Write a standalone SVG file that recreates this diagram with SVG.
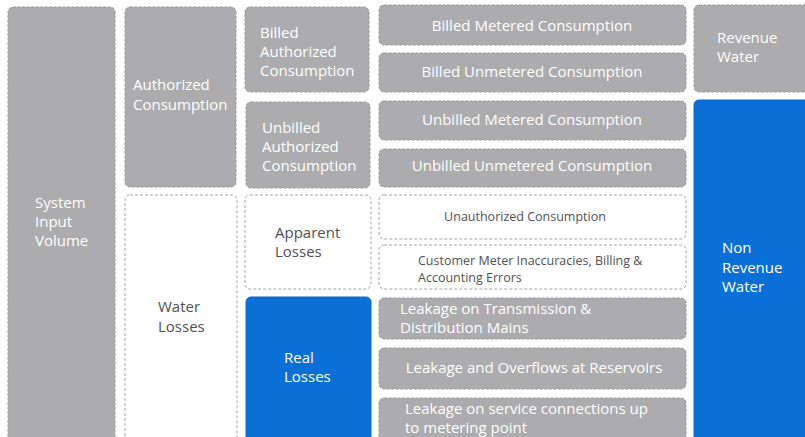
<svg xmlns="http://www.w3.org/2000/svg" width="805" height="437" viewBox="0 0 805 437">
<style>
.g{fill:#acacae;stroke:#9a9a9c;stroke-width:1;stroke-dasharray:3 1.5}
.w{fill:#ffffff;stroke:#a0a4b0;stroke-width:1;stroke-dasharray:3 2}
.b{fill:#0b6fd8;stroke:#0b66cc;stroke-width:1}
text{font-family:"Open Sans","Noto Sans",sans-serif;font-size:15px}
.lt{fill:#ffffff}
.dk{fill:#505054}
.sm{font-size:12.5px}
</style>
<rect width="805" height="437" fill="#ffffff"/>
<g id="system-input-volume">
<rect class="g" x="8" y="7" width="107" height="440" rx="5"/>
<text class="lt" x="35" y="208">System</text>
<text class="lt" x="35" y="227">Input</text>
<text class="lt" x="35" y="246">Volume</text>
</g>
<g id="authorized-consumption">
<rect class="g" x="125" y="7" width="111" height="180" rx="5"/>
<text class="lt" x="133" y="90">Authorized</text>
<text class="lt" x="133" y="110">Consumption</text>
</g>
<g id="water-losses">
<rect class="w" x="125" y="195" width="112" height="252" rx="5"/>
<text class="dk" x="158" y="312">Water</text>
<text class="dk" x="158" y="332">Losses</text>
</g>
<g id="billed-authorized">
<rect class="g" x="245" y="7" width="124" height="85" rx="5"/>
<text class="lt" x="260" y="38">Billed</text>
<text class="lt" x="260" y="57">Authorized</text>
<text class="lt" x="260" y="76">Consumption</text>
</g>
<g id="unbilled-authorized">
<rect class="g" x="246" y="102" width="124" height="86" rx="5"/>
<text class="lt" x="262" y="133">Unbilled</text>
<text class="lt" x="262" y="152">Authorized</text>
<text class="lt" x="262" y="171">Consumption</text>
</g>
<g id="apparent-losses">
<rect class="w" x="245" y="195" width="126" height="94" rx="5"/>
<text class="dk" x="275" y="238">Apparent</text>
<text class="dk" x="275" y="257">Losses</text>
</g>
<g id="real-losses">
<rect class="b" x="246" y="297" width="125" height="150" rx="5"/>
<text class="lt" x="284" y="363">Real</text>
<text class="lt" x="284" y="382">Losses</text>
</g>
<g id="billed-metered">
<rect class="g" x="379" y="5" width="307" height="40" rx="5"/>
<text class="lt" x="532" y="31" text-anchor="middle">Billed Metered Consumption</text>
</g>
<g id="billed-unmetered">
<rect class="g" x="379" y="53" width="307" height="39" rx="5"/>
<text class="lt" x="532" y="77" text-anchor="middle">Billed Unmetered Consumption</text>
</g>
<g id="unbilled-metered">
<rect class="g" x="379" y="101" width="307" height="39" rx="5"/>
<text class="lt" x="532" y="125" text-anchor="middle">Unbilled Metered Consumption</text>
</g>
<g id="unbilled-unmetered">
<rect class="g" x="379" y="149" width="307" height="38" rx="5"/>
<text class="lt" x="532" y="171" text-anchor="middle">Unbilled Unmetered Consumption</text>
</g>
<g id="unauthorized-consumption">
<rect class="w" x="379" y="195" width="307" height="44" rx="5"/>
<text class="dk sm" x="525" y="221" text-anchor="middle">Unauthorized Consumption</text>
</g>
<g id="customer-meter">
<rect class="w" x="379" y="245" width="307" height="44" rx="5"/>
<text class="dk sm" x="418" y="265">Customer Meter Inaccuracies, Billing &amp;</text>
<text class="dk sm" x="418" y="282">Accounting Errors</text>
</g>
<g id="leakage-transmission">
<rect class="g" x="379" y="298" width="307" height="41" rx="5"/>
<text class="lt" x="400" y="314">Leakage on Transmission &amp;</text>
<text class="lt" x="400" y="333">Distribution Mains</text>
</g>
<g id="leakage-reservoirs">
<rect class="g" x="379" y="348" width="307" height="41" rx="5"/>
<text class="lt" x="534" y="373" text-anchor="middle">Leakage and Overflows at Reservoirs</text>
</g>
<g id="leakage-service">
<rect class="g" x="379" y="398" width="307" height="49" rx="5"/>
<text class="lt" x="405" y="414">Leakage on service connections up</text>
<text class="lt" x="405" y="433">to metering point</text>
</g>
<g id="revenue-water">
<rect class="g" x="694" y="5" width="120" height="87" rx="5"/>
<text class="lt" x="717" y="43">Revenue</text>
<text class="lt" x="717" y="62">Water</text>
</g>
<g id="non-revenue-water">
<rect class="b" x="694" y="100" width="120" height="347" rx="5"/>
<text class="lt" x="722" y="253">Non</text>
<text class="lt" x="722" y="273">Revenue</text>
<text class="lt" x="722" y="292">Water</text>
</g>
<g id="connectors"/>
</svg>
